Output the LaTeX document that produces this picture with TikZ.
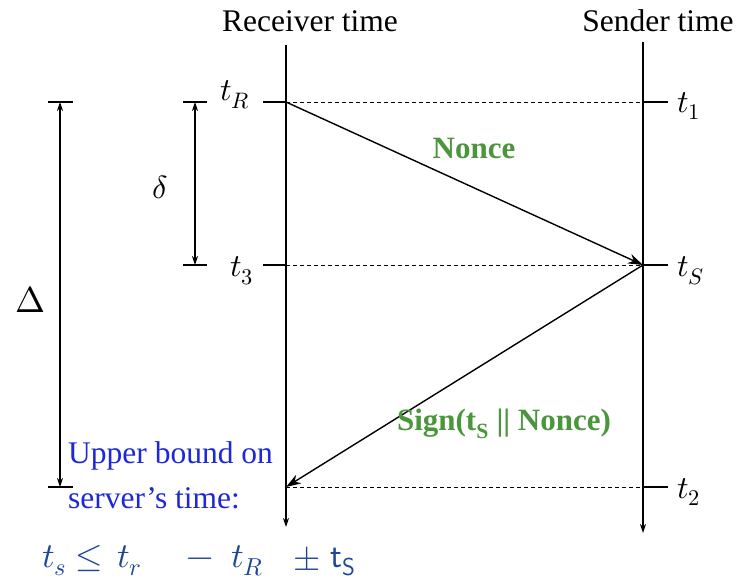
\documentclass[tikz,border=0pt]{standalone}
\usepackage{fontspec}
\usepackage{unicode-math}
\setmainfont{Liberation Serif}
\setmathfont{Latin Modern Math}
\usetikzlibrary{arrows.meta}
\definecolor{msggreen}{RGB}{74,150,60}
\definecolor{noteblue}{RGB}{30,40,215}
\definecolor{formblue}{RGB}{30,70,150}
\begin{document}
\begin{tikzpicture}[x=1pt,y=-1pt,
  axis/.style={line width=1.3pt,-{Stealth[length=9pt,width=6pt]}},
  tick/.style={line width=1.2pt},
  dotline/.style={line width=1pt,dash pattern=on 4pt off 3pt},
  msg/.style={line width=1.4pt,-{Stealth[length=15pt,width=10pt]}},
  dim/.style={line width=1.1pt,{Stealth[length=9pt,width=6pt]}-{Stealth[length=9pt,width=6pt]}},
  lbl/.style={font=\fontsize{32}{32}\selectfont},
  title/.style={font=\fontsize{31.5}{31.5}\selectfont},
  msglbl/.style={text=msggreen,font=\fontsize{31}{31}\selectfont\bfseries},
  formula/.style={text=formblue,anchor=base west,inner sep=0pt,font=\fontsize{35}{35}\selectfont}]
\useasboundingbox (0,0) rectangle (737,584);
\fill[white] (0,0) rectangle (737,584);
% axes
\coordinate (rtop) at (286,45);
\coordinate (rbot) at (286,527);
\coordinate (stop) at (643,42);
\coordinate (sbot) at (643,533);
\node[title,anchor=base] (rtitle) at (310,31) {Receiver time};
\node[title,anchor=base] (stitle) at (658,31) {Sender time};
\draw[axis] (rtop) -- (rbot);
\draw[axis] (stop) -- (sbot);
% rows
\coordinate (rR) at (286,102);
\coordinate (r3) at (286,265);
\coordinate (r2) at (286,487);
\coordinate (s1) at (643,102);
\coordinate (sS) at (643,265);
\coordinate (s2) at (643,487);
\coordinate (lR) at (263,102);
\coordinate (l3) at (263,265);
\coordinate (e1) at (668,102);
\coordinate (eS) at (668,265);
\coordinate (e2) at (668,487);
\draw[tick] (lR) -- (rR);
\draw[tick] (l3) -- (r3);
\draw[tick] (s1) -- (e1);
\draw[tick] (sS) -- (eS);
\draw[tick] (s2) -- (e2);
\draw[dotline] (rR) -- (s1);
\draw[dotline] (r3) -- (sS);
\draw[dotline] (r2) -- (s2);
% labels
\node[lbl] (tR) at (235,95) {$t_R$};
\node[lbl] (t3) at (242,271) {$t_3$};
\node[lbl] (t1) at (689,106) {$t_1$};
\node[lbl] (tS) at (691,271) {$t_S$};
\node[lbl] (t2) at (689,492) {$t_2$};
% messages
\draw[msg] (rR) -- (sS);
\draw[msg] (sS) -- (r2);
\node[msglbl] (nonce) at (474,148) {Nonce};
\node[msglbl] (sign) at (504,424) {Sign(t\textsubscript{S} || Nonce)};
% delta dimension
\coordinate (dta) at (183,102);
\coordinate (dtb) at (207,102);
\coordinate (dba) at (183,265);
\coordinate (dbb) at (207,265);
\coordinate (dt) at (195,102);
\coordinate (db) at (195,265);
\draw[tick] (dta) -- (dtb);
\draw[tick] (dba) -- (dbb);
\draw[dim] (dt) -- (db);
\node[lbl] (delta) at (160,187) {$\delta$};
% Delta dimension
\coordinate (Dta) at (48,102);
\coordinate (Dtb) at (73,102);
\coordinate (Dba) at (48,487);
\coordinate (Dbb) at (73,487);
\coordinate (Dt) at (60,102);
\coordinate (Db) at (60,487);
\draw[tick] (Dta) -- (Dtb);
\draw[tick] (Dba) -- (Dbb);
\draw[dim] (Dt) -- (Db);
\node[font=\fontsize{36}{36}\selectfont] (Delta) at (30,300) {$\Delta$};
% note
\node[anchor=base west,align=left,text=noteblue,inner sep=0pt,
  font=\fontsize{31.5}{45}\selectfont] (note) at (68,508) {Upper bound on\\server’s time:};
% formula
\node[formula] (f1) at (42,567) {$t_s$};
\node[formula] (f2) at (75,567) {$\leq$};
\node[formula] (f3) at (117,567) {$t_r$};
\node[formula] (f4) at (186,567) {$-$};
\node[formula] (f5) at (231,567) {$t_R$};
\node[formula] (f6) at (293,567) {$\pm$};
\node[formula] (f7) at (330,567) {$\mathsf{t}_{\mathsf{S}}$};
\end{tikzpicture}
\end{document}
